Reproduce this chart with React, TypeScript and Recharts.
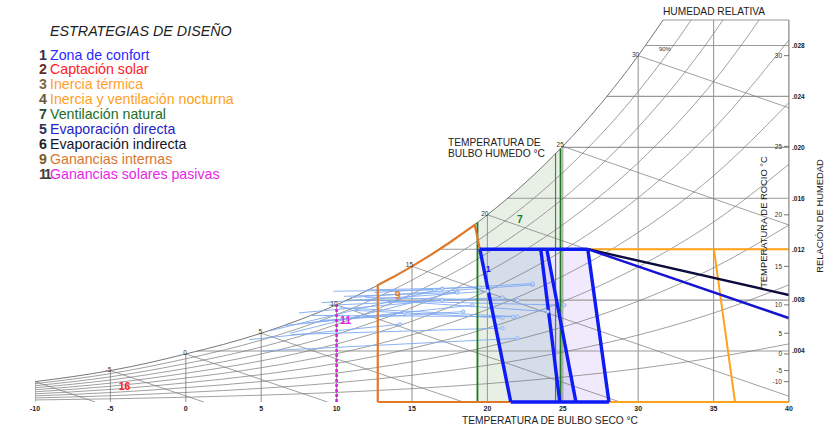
import React from 'react';
import { ComposedChart, Line, ReferenceLine, Scatter, XAxis, YAxis } from 'recharts';

const FONT = '"Liberation Sans", Arial, Helvetica, sans-serif';

// ejes
const tempTicks = [-10, -5, 0, 5, 10, 15, 20, 25, 30, 35, 40];
const humTicks = [0.004, 0.008, 0.012, 0.016, 0.02, 0.024, 0.028];

// curva de saturacion (100%)
const satT = [-10, -7.5, -5, -2.5, 0, 2.5, 5, 7.5, 10, 12.5, 15, 17.5, 20, 22.5, 25, 27.5, 30, 31.65];
const satW = [0.0016, 0.001992, 0.00247, 0.003066, 0.003775, 0.004524, 0.0054, 0.006436, 0.00763, 0.009028, 0.01065, 0.012525, 0.0147, 0.017204, 0.02008, 0.023389, 0.0272, 0.03];

// humedad relativa 10% .. 90% (valores en cada tempTick)
const rh10 = [0.00016, 0.000247, 0.000375, 0.000536, 0.000755, 0.001049, 0.001439, 0.001952, 0.002618, 0.003475, 0.004566];
const rh20 = [0.000319, 0.000493, 0.000751, 0.001073, 0.001511, 0.002101, 0.002885, 0.003916, 0.005258, 0.006988, 0.0092];
const rh30 = [0.000479, 0.00074, 0.001128, 0.001611, 0.00227, 0.003157, 0.004338, 0.005893, 0.00792, 0.010541, 0.013903];
const rh40 = [0.000639, 0.000987, 0.001504, 0.00215, 0.00303, 0.004217, 0.005797, 0.007882, 0.010605, 0.014135, 0.018677];
const rh50 = [0.000799, 0.001235, 0.001882, 0.00269, 0.003793, 0.00528, 0.007264, 0.009884, 0.013314, 0.01777, 0.023522];
const rh60 = [0.000959, 0.001482, 0.002259, 0.003231, 0.004557, 0.006346, 0.008737, 0.011898, 0.016045, 0.021446, 0.028442];
const rh70 = [0.001119, 0.00173, 0.002637, 0.003772, 0.005323, 0.007417, 0.010216, 0.013925, 0.0188, 0.025165, 0.033437];
const rh80 = [0.001279, 0.001979, 0.003016, 0.004315, 0.006091, 0.008491, 0.011704, 0.015966, 0.021579, 0.028927, 0.038509];
const rh90 = [0.00144, 0.002228, 0.003395, 0.004858, 0.006861, 0.009568, 0.013198, 0.018019, 0.024382, 0.032733, 0.04366];
const rhCurves = [rh10, rh20, rh30, rh40, rh50, rh60, rh70, rh80, rh90];

// lineas verticales de bulbo seco (hasta saturacion)
const dryTopW = [0.0016, 0.00247, 0.003775, 0.0054, 0.00763, 0.01065, 0.0147, 0.02008, 0.0272, 0.03, 0.03];
// lineas horizontales de relacion de humedad (desde saturacion)
const humStartT = [0.75, 10.62, 16.83, 21.34, 24.95, 27.92, 30.5];

// bulbo humedo
const wbT = [-10, -5, 0, 5, 10, 15, 20, 25, 30];
const wbW = [0.0016, 0.00247, 0.003775, 0.0054, 0.00763, 0.01065, 0.0147, 0.02008, 0.0272];
const wbEndT = [-6, 1.2, 9.4, 18.4, 28.8, 40, 40, 40, 40];
const wbEndW = [0, 0, 0, 0, 0, 0.00045, 0.0065, 0.0139, 0.0231];

// zonas
const confortT = [19.5, 23.54, 24.8, 21.55];
const confortW = [0.012, 0.012, 0, 0];
const evapMidT = [23.54, 23.94, 25.87, 24.8];
const evapMidW = [0.012, 0.012, 0, 0];
const evapT = [23.94, 26.66, 28.06, 25.87];
const evapW = [0.012, 0.012, 0, 0];
const ventT = [19.34, 19.34, 20, 21.25, 22.5, 23.75, 24.85, 24.85];
const ventW = [0, 0.0141, 0.0147, 0.01591, 0.017204, 0.01857, 0.0199, 0];
const gananciasT = [12.73, 12.73, 13.75, 15, 16.25, 17.5, 18.5, 19.16, 19.5];
const gananciasW = [0, 0.00918, 0.00981, 0.01065, 0.01155, 0.012525, 0.01336, 0.01392, 0.012];

// datos climaticos (min -> max)
const climaT1 = [5.0, 5.6, 6.9, 7.0, 8.0, 8.2, 8.9, 9.5, 10.2, 10.5, 10.9, 11.2, 11.5, 11.9, 12.5, 12.9, 7.5, 9.0, 6.5, 4.2, 9.8, 12.0];
const climaW1 = [0.004, 0.0056, 0.0054, 0.0053, 0.0062, 0.0068, 0.0064, 0.0076, 0.0074, 0.0083, 0.0082, 0.0072, 0.008, 0.0082, 0.0086, 0.008, 0.007, 0.0078, 0.006, 0.0049, 0.0087, 0.0088];
const climaT2 = [22.0, 17.0, 18.0, 21.0, 19.0, 21.7, 18.4, 21.0, 22.0, 18.0, 23.0, 21.0, 25.1, 22.0, 23.0, 24.0, 17.0, 20.0, 14.5, 14.2, 16.5, 19.5];
const climaW2 = [0.005, 0.0089, 0.0087, 0.0058, 0.0076, 0.0067, 0.0071, 0.0082, 0.0067, 0.0086, 0.0092, 0.0066, 0.0076, 0.008, 0.0093, 0.0071, 0.008, 0.0087, 0.007, 0.0061, 0.0088, 0.009];

// etiquetas de zona
const zoneLabelText = ['1', '7', '9', '11', '16'];
const zoneLabelT = [20.05, 22.15, 14.05, 10.6, -4.06];
const zoneLabelW = [0.0105, 0.01435, 0.0084, 0.00643, 0.00125];
const zoneLabelColor = ['#1a1aff', '#1f7a1f', '#e07a2a', '#e020e0', '#ff2020'];

// leyenda
const legendNums = ['1', '2', '3', '4', '7', '5', '6', '9', '11'];
const legendLabels = ['Zona de confort', 'Captación solar', 'Inercia térmica', 'Inercia y ventilación nocturna', 'Ventilación natural', 'Evaporación directa', 'Evaporación indirecta', 'Ganancias internas', 'Ganancias solares pasivas'];
const legendColors = ['#2a2aff', '#ff2020', '#ffa030', '#ff9f1c', '#1e6e1e', '#2323c8', '#14142a', '#d8782e', '#e626e6'];
const legendNumColors = ['#303048', '#6a2a2a', '#7a6a40', '#6a5a3a', '#2a4a2a', '#303058', '#222222', '#7a5a2a', '#4a3a3a'];

const pts = (ts: number[], ws: number[]) => ts.map((t, i) => ({ t, w: ws[i] }));

const noShape = () => <g />;

const seg = (key: string, data: any[], stroke: string, width: number, extra: any = {}) => (
  <Line
    key={key}
    data={data}
    dataKey="w"
    type="linear"
    stroke={stroke}
    strokeWidth={width}
    dot={false}
    activeDot={false}
    isAnimationActive={false}
    {...extra}
  />
);

// tramo sobre el borde del grafico (sin recorte)
const edge = (key: string, t1: number, w1: number, t2: number, w2: number, stroke: string, width: number) => (
  <ReferenceLine
    key={key}
    segment={[{ x: t1, y: w1 }, { x: t2, y: w2 }]}
    stroke={stroke}
    strokeWidth={width}
    ifOverflow="visible"
  />
);

const poly = (key: string, data: any[], fill: string) => (
  <Scatter
    key={key}
    data={data}
    shape={noShape}
    isAnimationActive={false}
    zIndex={50}
    line={(p: any) => (
      <path
        key={key + 'p'}
        d={p.points.map((q: any, i: number) => `${i ? 'L' : 'M'}${q.x},${q.y}`).join(' ') + ' Z'}
        fill={fill}
        stroke="none"
      />
    )}
  />
);

const smallText = { fontSize: 6.5, fontFamily: FONT, fill: '#333' };

const App = () => {
  const grey = '#777';
  return (
    <div style={{ position: 'absolute', left: 0, top: 0, width: 840, height: 432, background: '#fff', fontFamily: FONT }}>
      <ComposedChart width={840} height={432} margin={{ top: 20, right: 11, bottom: 0, left: 35 }}>
        <XAxis
          type="number"
          dataKey="t"
          domain={[-10, 40]}
          ticks={tempTicks}
          interval={0}
          allowDataOverflow
          height={30}
          tickLine={false}
          tickSize={2}
          tickMargin={2}
          axisLine={false}
          tick={{ fontSize: 7, fontWeight: 'bold', fill: '#222', fontFamily: FONT }}
        />
        <YAxis
          type="number"
          dataKey="w"
          orientation="right"
          domain={[0, 0.03]}
          ticks={humTicks}
          interval={0}
          allowDataOverflow
          width={40}
          tickLine={false}
          tickSize={2}
          tickMargin={1}
          axisLine={{ stroke: '#888' }}
          tick={{ fontSize: 6.5, fontWeight: 'bold', fill: '#222', fontFamily: FONT, textAnchor: 'start' }}
          tickFormatter={(v: number) => v.toFixed(3).replace(/^0/, '')}
        />

        {poly('fv', pts(ventT, ventW), '#e8f0e5')}
        {poly('fc', pts(confortT, confortW), '#d5dcea')}
        {poly('fe', pts(evapT, evapW), '#f1eafc')}
        {poly('fm', pts(evapMidT, evapMidW), '#dcd5f5')}

        {tempTicks.map((t, i) => seg('v' + i, [{ t, w: 0 }, { t, w: dryTopW[i] }], '#9a9a9a', 1.1))}
        {humTicks.map((w, i) => seg('h' + i, [{ t: humStartT[i], w }, { t: 40, w }], '#9a9a9a', 1.1))}
        {edge('top', 31.65, 0.03, 40, 0.03, '#9a9a9a', 1.1)}

        {rhCurves.map((c, i) => seg('rh' + i, pts(tempTicks, c), grey, 0.7, { type: 'monotone' }))}
        {seg('sat', pts(satT, satW), '#666', 0.9, { type: 'monotone' })}
        {wbT.map((t, i) => seg('wb' + i, [{ t, w: wbW[i] }, { t: wbEndT[i], w: wbEndW[i] }], grey, 0.7))}

        {climaT1.map((t, i) =>
          seg('cl' + i, [{ t, w: climaW1[i] }, { t: climaT2[i], w: climaW2[i] }], '#7ea9f2', 0.9, {
            dot: (p: any) =>
              p.index === 1 ? (
                <circle key={'cd' + i} cx={p.cx} cy={p.cy} r={1.7} fill="#cfe0fb" stroke="#7ea9f2" strokeWidth={0.8} />
              ) : (
                <g key={'cd' + i + 'a'} />
              ),
          })
        )}

        {seg('g1', [{ t: 19.34, w: 0 }, { t: 19.34, w: 0.0141 }], '#1b7a1b', 1.8)}
        {seg('g2', [{ t: 24.52, w: 0 }, { t: 24.52, w: 0.01954 }], '#3a8a3a', 1.2)}
        {seg('g3', [{ t: 24.85, w: 0 }, { t: 24.85, w: 0.0199 }], '#1b7a1b', 1.8)}

        {seg('gan', pts(gananciasT, gananciasW), '#e0782a', 2.2)}
        {edge('ganb', 12.73, 0, 21.55, 0, '#e0782a', 2.2)}
        {seg('mag', [{ t: 10, w: 0 }, { t: 10, w: 0.00763 }], '#e21ce2', 2.6, { strokeDasharray: '3 2' })}

        {seg('or1', [{ t: 26.66, w: 0.012 }, { t: 40, w: 0.012 }], '#ffa31a', 2)}
        {seg('or2', [{ t: 35.02, w: 0.012 }, { t: 36.42, w: 0 }], '#ffa31a', 2)}
        {edge('or3', 28.06, 0, 40, 0, '#ffa31a', 2)}

        {seg('navy', [{ t: 26.66, w: 0.012 }, { t: 40, w: 0.0084 }], '#0c0c3c', 2.4)}
        {seg('bwb', [{ t: 26.66, w: 0.012 }, { t: 40, w: 0.00659 }], '#1414d8', 2.4)}

        {seg('bt', [{ t: 19.5, w: 0.012 }, { t: 26.66, w: 0.012 }], '#0d1bf5', 3.4)}
        {edge('bb', 21.55, 0, 28.06, 0, '#0d1bf5', 3.4)}
        {seg('be1', pts([19.5, 21.55], [0.012, 0]), '#0d1bf5', 3.4)}
        {seg('be2', pts([23.54, 24.8], [0.012, 0]), '#0d1bf5', 3.4)}
        {seg('be3', pts([23.94, 25.87], [0.012, 0]), '#0d1bf5', 3.4)}
        {seg('be4', pts([26.66, 28.06], [0.012, 0]), '#0d1bf5', 3.4)}

        <Scatter
          data={pts(wbT.slice(1), wbW.slice(1))}
          isAnimationActive={false}
          shape={(p: any) => (
            <text x={p.cx + 1} y={p.cy + 1} textAnchor="end" {...smallText}>
              {p.payload.t}
            </text>
          )}
        />
        <Scatter
          data={wbT.map((t, i) => ({ t: 40, w: wbW[i], d: t }))}
          isAnimationActive={false}
          shape={(p: any) => (
            <g>
              <line x1={p.cx - 5} x2={p.cx} y1={p.cy} y2={p.cy} stroke="#555" strokeWidth={0.8} />
              <text x={p.cx - 7} y={p.cy + 2.3} textAnchor="end" {...smallText}>
                {p.payload.d}
              </text>
            </g>
          )}
        />
        <Scatter
          data={[{ t: 31.77, w: 0.02769 }]}
          isAnimationActive={false}
          shape={(p: any) => (
            <text x={p.cx} y={p.cy + 2} textAnchor="middle" {...smallText} fontSize={6}>
              90%
            </text>
          )}
        />
        <Scatter
          data={zoneLabelT.map((t, i) => ({ t, w: zoneLabelW[i], k: i }))}
          isAnimationActive={false}
          shape={(p: any) => (
            <text
              x={p.cx}
              y={p.cy + 3.5}
              textAnchor="middle"
              fontSize={p.payload.k === 0 ? 9 : 10.5}
              fontWeight="bold"
              fontFamily={FONT}
              fill={zoneLabelColor[p.payload.k]}
            >
              {zoneLabelText[p.payload.k]}
            </text>
          )}
        />
      </ComposedChart>

      <div style={{ position: 'absolute', left: 50, top: 23, fontSize: 14.3, fontStyle: 'italic', color: '#222', whiteSpace: 'nowrap' }}>
        ESTRATEGIAS DE DISEÑO
      </div>
      {legendLabels.map((label, i) => (
        <div key={label} style={{ position: 'absolute', left: 39, top: 46.5 + i * 14.9, height: 16, lineHeight: '16px', fontSize: 14.2, whiteSpace: 'nowrap' }}>
          <span style={{ position: 'absolute', left: 0, fontWeight: 'bold', color: legendNumColors[i], letterSpacing: -2 }}>{legendNums[i]}</span>
          <span style={{ position: 'absolute', left: 11, color: legendColors[i] }}>{label}</span>
        </div>
      ))}

      <div style={{ position: 'absolute', left: 663, top: 6, fontSize: 10.2, color: '#222', whiteSpace: 'nowrap' }}>HUMEDAD RELATIVA</div>
      <div style={{ position: 'absolute', left: 448, top: 137, fontSize: 10.2, lineHeight: '11px', color: '#222', whiteSpace: 'nowrap' }}>
        TEMPERATURA DE
        <br />
        BULBO HUMEDO °C
      </div>
      <div style={{ position: 'absolute', left: 462, top: 415, fontSize: 10.2, color: '#222', whiteSpace: 'nowrap' }}>TEMPERATURA DE BULBO SECO °C</div>
      <div style={{ position: 'absolute', left: 763, top: 222, fontSize: 9.4, color: '#222', whiteSpace: 'nowrap', transform: 'translate(-50%, -50%) rotate(-90deg)' }}>
        TEMPERATURA DE ROCIO °C
      </div>
      <div style={{ position: 'absolute', left: 819, top: 216, fontSize: 9.4, color: '#222', whiteSpace: 'nowrap', transform: 'translate(-50%, -50%) rotate(-90deg)' }}>
        RELACIÓN DE HUMEDAD
      </div>
    </div>
  );
};

export default App;
